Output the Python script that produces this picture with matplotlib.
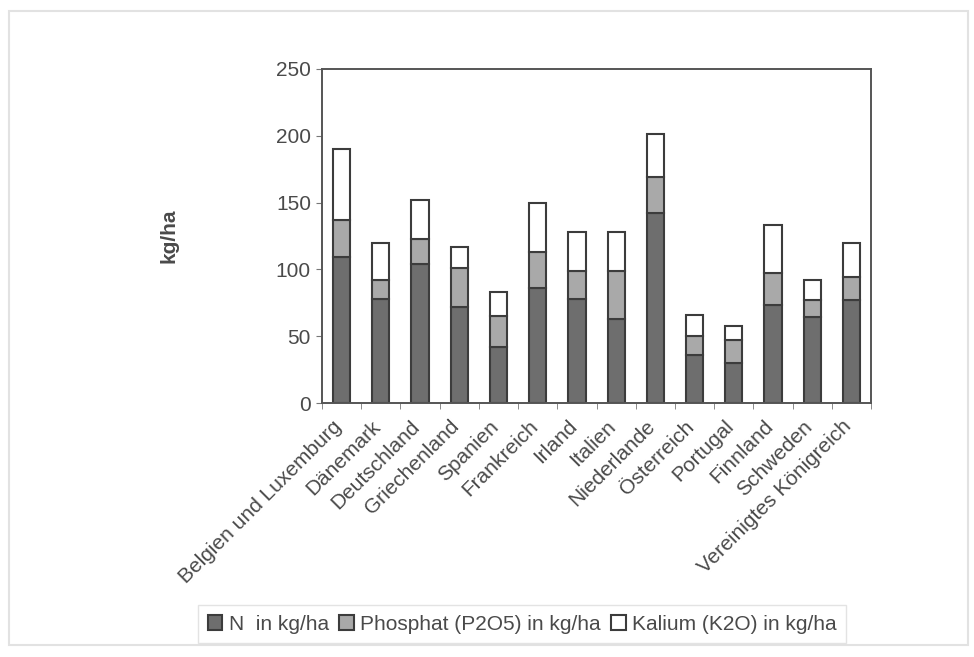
import numpy as np
import matplotlib.pyplot as plt
import matplotlib.transforms as mtransforms
from matplotlib.patches import Rectangle

plt.rcParams['font.family'] = ['Liberation Sans', 'DejaVu Sans']

laender = ["Belgien und Luxemburg", "Dänemark", "Deutschland", "Griechenland",
           "Spanien", "Frankreich", "Irland", "Italien", "Niederlande",
           "Österreich", "Portugal", "Finnland", "Schweden",
           "Vereinigtes Königreich"]
# cumulative tops
n_kg = [109, 78, 104, 72, 42, 86, 78, 63, 142, 36, 30, 73, 64, 77]
n_p_kg = [137, 92, 123, 101, 65, 113, 99, 99, 169, 50, 47, 97, 77, 94]
gesamt_kg = [190, 120, 152, 117, 83, 150, 128, 128, 201, 66, 58, 133, 92, 120]

n = np.array(n_kg)
p = np.array(n_p_kg) - n
k = np.array(gesamt_kg) - np.array(n_p_kg)

txt = "#4a4a4a"
edge = "#3c3c3c"
fs = 15

fig = plt.figure(figsize=(9.74, 6.57), dpi=100)
ax = fig.add_axes([0.3306, 0.3866, 0.5637, 0.5084])

x = np.arange(len(laender))
w = 0.44
ax.bar(x, n, w, color="#6e6e6e", edgecolor=edge, linewidth=1.5, label="N  in kg/ha")
ax.bar(x, p, w, bottom=n, color="#a9a9a9", edgecolor=edge, linewidth=1.5,
       label="Phosphat (P2O5) in kg/ha")
ax.bar(x, k, w, bottom=n + p, color="white", edgecolor=edge, linewidth=1.5,
       label="Kalium (K2O) in kg/ha")

ax.set_xlim(-0.5, len(laender) - 0.5)
ax.set_ylim(0, 250)
ax.set_yticks(range(0, 251, 50))
ax.set_xticks(x)
ax.set_xticklabels(laender, rotation=45, ha="right", rotation_mode="anchor",
                   fontsize=fs, color=txt)
ax.tick_params(axis="x", length=0, pad=10)
shift = mtransforms.ScaledTranslation(-7 / 72, 0, fig.dpi_scale_trans)
for lbl in ax.get_xticklabels():
    lbl.set_transform(lbl.get_transform() + shift)
ax.set_xticks(np.arange(-0.5, len(laender)), minor=True)
ax.tick_params(axis="x", which="minor", length=4, color="#777777")
ax.tick_params(axis="y", length=4, labelsize=fs, labelcolor=txt, color="#777777", pad=4)
for s in ax.spines.values():
    s.set_color("#555555")
    s.set_linewidth(1.4)

ax.set_ylabel("kg/ha", fontsize=15, fontweight="bold", color=txt)
ax.yaxis.set_label_coords(-0.262, 0.5)

fig.legend(loc="center", bbox_to_anchor=(0.536, 0.05), ncol=3, fontsize=fs,
           frameon=True, fancybox=False, edgecolor="#dddddd", labelcolor=txt,
           handlelength=0.7, handleheight=0.7, handletextpad=0.3,
           columnspacing=0.5, borderpad=0.45)

# faint outer frame of the scanned chart
fig.patches.append(Rectangle((0.009, 0.018), 0.985, 0.965, transform=fig.transFigure,
                             fill=False, edgecolor="#e2e2e2", linewidth=1.5))

fig.savefig("out.png", dpi=100)
